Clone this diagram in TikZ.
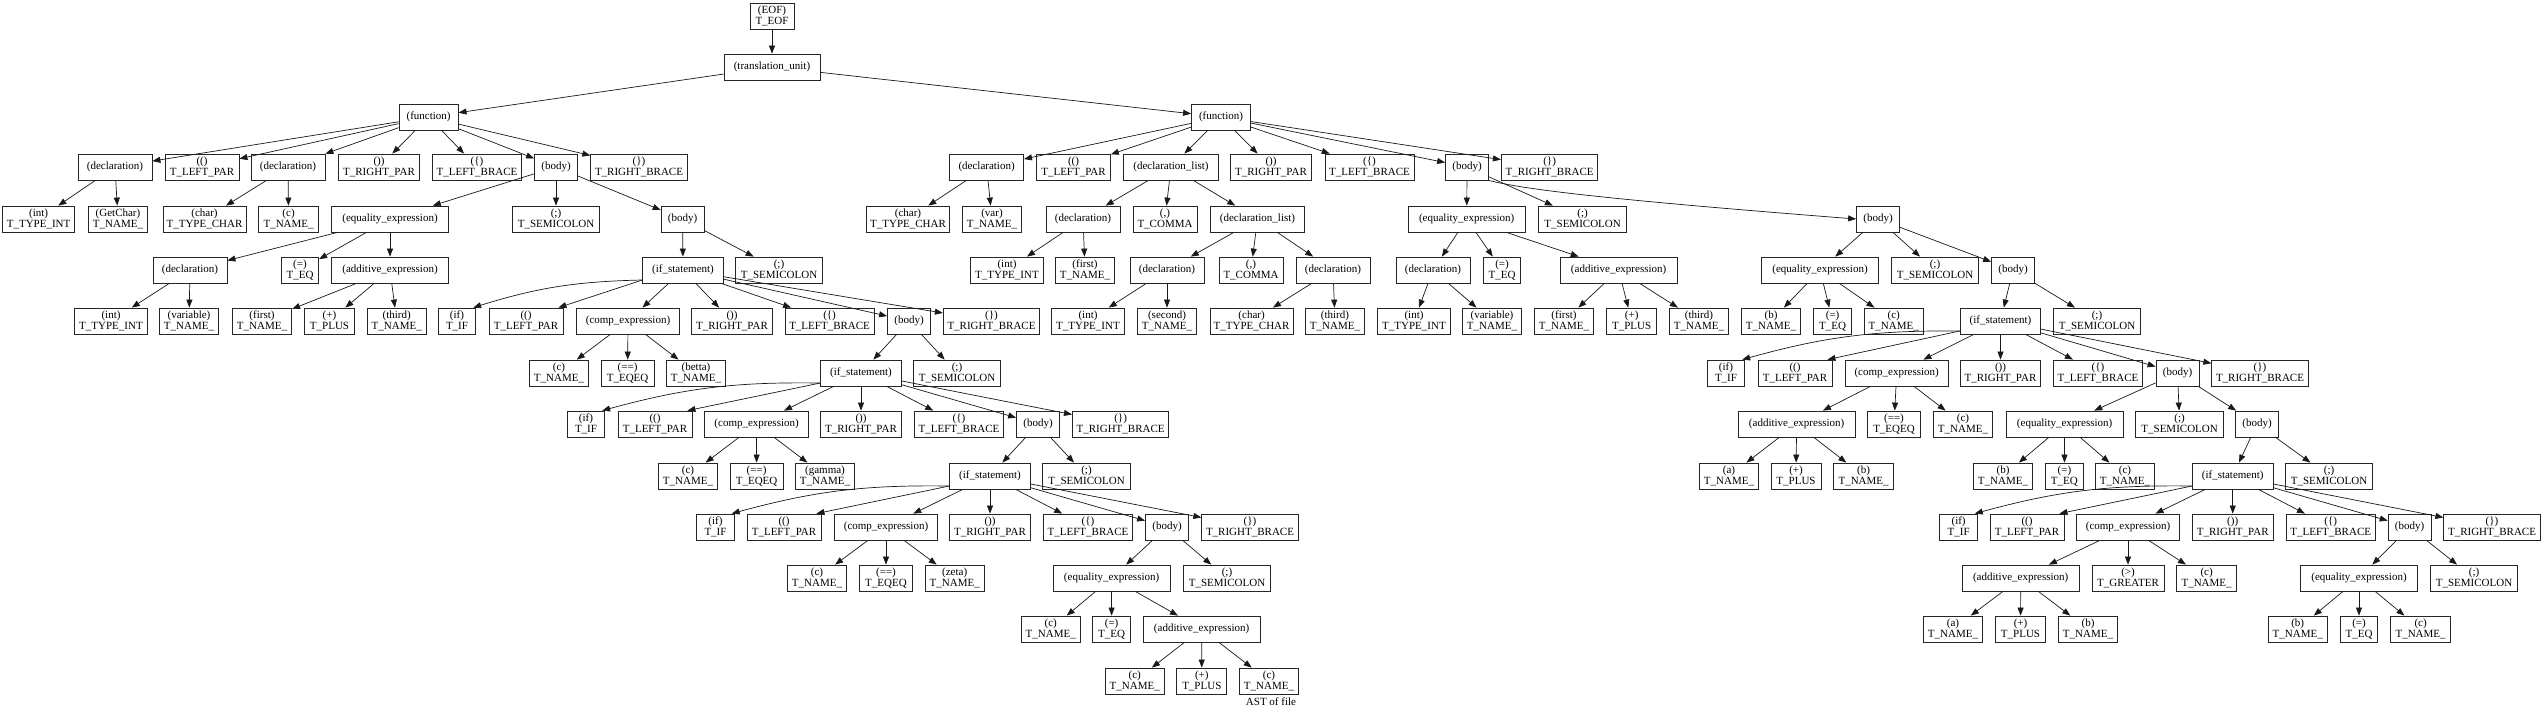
\documentclass[tikz,border=0pt]{standalone}
\usepackage{fontspec}
\setmainfont{Liberation Serif}
\usetikzlibrary{arrows.meta}
\begin{document}
\begin{tikzpicture}[x=1pt,y=-1pt,
  box/.style={draw=black!85,line width=0.8pt,rectangle,minimum height=26pt,inner sep=1pt,align=center,font=\fontsize{11}{11}\selectfont},
  edge/.style={draw=black!90,line width=0.7pt,-{Triangle[length=8pt,width=6pt]}},
  sEOF/.style={box,minimum width=44pt},
  sTU/.style={box,minimum width=96pt},
  sFN/.style={box,minimum width=59pt},
  sDECL/.style={box,minimum width=74pt},
  sLP/.style={box,minimum width=74pt},
  sRP/.style={box,minimum width=80.5pt},
  sLB/.style={box,minimum width=89pt},
  sBODY/.style={box,minimum width=43pt},
  sRB/.style={box,minimum width=96.5pt},
  sINT/.style={box,minimum width=72.5pt},
  sNAME/.style={box,minimum width=59.5pt},
  sCHAR/.style={box,minimum width=83pt},
  sEQX/.style={box,minimum width=117pt},
  sSEMI/.style={box,minimum width=87.5pt},
  sEQ/.style={box,minimum width=37.5pt},
  sADD/.style={box,minimum width=117pt},
  sIFS/.style={box,minimum width=80.5pt},
  sIF/.style={box,minimum width=37.5pt},
  sCOMP/.style={box,minimum width=103.5pt},
  sEQEQ/.style={box,minimum width=53pt},
  sPLUS/.style={box,minimum width=50pt},
  sDL/.style={box,minimum width=94.5pt},
  sCOMMA/.style={box,minimum width=64pt},
  sGT/.style={box,minimum width=72pt},
  caption/.style={font=\fontsize{11}{11}\selectfont,inner sep=0pt}]
\useasboundingbox (0,0) rectangle (2543,713);
% row 0-2
\node[sEOF] (eof) at (772,16) {(EOF)\\T\_EOF};
\node[sTU] (tu) at (772,67) {(translation\_unit)};
\node[sFN] (f1) at (428.6,117) {(function)};
\node[sFN] (f2) at (1221,117) {(function)};
% row 3
\node[sDECL] (d1) at (115,167) {(declaration)};
\node[sLP] (lp1) at (202,167) {(()\\T\_LEFT\_PAR};
\node[sDECL] (d2) at (288,167) {(declaration)};
\node[sRP] (rp1) at (379,167) {())\\T\_RIGHT\_PAR};
\node[sLB] (lb1) at (477,167) {(\{)\\T\_LEFT\_BRACE};
\node[sBODY] (b1) at (556,167) {(body)};
\node[sRB] (rb1) at (639,167) {(\})\\T\_RIGHT\_BRACE};
\node[sDECL] (d4) at (986.6,167) {(declaration)};
\node[sLP] (lp5) at (1073.5,167) {(()\\T\_LEFT\_PAR};
\node[sDL] (dl1) at (1171,167) {(declaration\_list)};
\node[sRP] (rp5) at (1271,167) {())\\T\_RIGHT\_PAR};
\node[sLB] (lb5) at (1369.5,167) {(\{)\\T\_LEFT\_BRACE};
\node[sBODY] (b6) at (1467,167) {(body)};
\node[sRB] (rb5) at (1549.6,167) {(\})\\T\_RIGHT\_BRACE};
% row 4
\node[sINT] (int1) at (38.6,219) {(int)\\T\_TYPE\_INT};
\node[sNAME] (nGet) at (118,219) {(GetChar)\\T\_NAME\_};
\node[sCHAR] (char1) at (204.5,219) {(char)\\T\_TYPE\_CHAR};
\node[sNAME] (nc1) at (288.6,219) {(c)\\T\_NAME\_};
\node[sEQX] (eq1) at (390,219) {(equality\_expression)};
\node[sSEMI] (semi1) at (556,219) {(;)\\T\_SEMICOLON};
\node[sBODY] (b2) at (682.6,219) {(body)};
\node[sCHAR] (char2) at (908,219) {(char)\\T\_TYPE\_CHAR};
\node[sNAME] (nvar) at (992,219) {(var)\\T\_NAME\_};
\node[sDECL] (d5) at (1083,219) {(declaration)};
\node[sCOMMA] (comma1) at (1165,219) {(,)\\T\_COMMA};
\node[sDL] (dl2) at (1257.5,219) {(declaration\_list)};
\node[sEQX] (eq3) at (1466.7,219) {(equality\_expression)};
\node[sSEMI] (semi6) at (1582.6,219) {(;)\\T\_SEMICOLON};
\node[sBODY] (b7) at (1878,219) {(body)};
% row 5
\node[sDECL] (d3) at (190,270) {(declaration)};
\node[sEQ] (eqop1) at (300,270) {(=)\\T\_EQ};
\node[sADD] (add1) at (390,270) {(additive\_expression)};
\node[sIFS] (if1) at (683,270) {(if\_statement)};
\node[sSEMI] (semi2) at (779,270) {(;)\\T\_SEMICOLON};
\node[sINT] (int3) at (1007,270) {(int)\\T\_TYPE\_INT};
\node[sNAME] (nfirst2) at (1085,270) {(first)\\T\_NAME\_};
\node[sDECL] (d6) at (1167,270) {(declaration)};
\node[sCOMMA] (comma2) at (1251,270) {(,)\\T\_COMMA};
\node[sDECL] (d7) at (1333,270) {(declaration)};
\node[sDECL] (d8) at (1433,270) {(declaration)};
\node[sEQ] (eqop3) at (1502,270) {(=)\\T\_EQ};
\node[sADD] (add3) at (1618.6,270) {(additive\_expression)};
\node[sEQX] (eq4) at (1820,270) {(equality\_expression)};
\node[sSEMI] (semi7) at (1935,270) {(;)\\T\_SEMICOLON};
\node[sBODY] (b8) at (2013,270) {(body)};
% row 6
\node[sINT] (int2) at (111,321) {(int)\\T\_TYPE\_INT};
\node[sNAME] (nvar1) at (189,321) {(variable)\\T\_NAME\_};
\node[sNAME] (nfirst1) at (262,321) {(first)\\T\_NAME\_};
\node[sPLUS] (plus1) at (329.5,321) {(+)\\T\_PLUS};
\node[sNAME] (nthird1) at (396.7,321) {(third)\\T\_NAME\_};
\node[sIF] (kif1) at (457,321) {(if)\\T\_IF};
\node[sLP] (lp2) at (526,321) {(()\\T\_LEFT\_PAR};
\node[sCOMP] (comp1) at (628,321) {(comp\_expression)};
\node[sRP] (rp2) at (732,321) {())\\T\_RIGHT\_PAR};
\node[sLB] (lb2) at (829.6,321) {(\{)\\T\_LEFT\_BRACE};
\node[sBODY] (b3) at (909,321) {(body)};
\node[sRB] (rb2) at (991.5,321) {(\})\\T\_RIGHT\_BRACE};
\node[sINT] (int4) at (1088,321) {(int)\\T\_TYPE\_INT};
\node[sNAME] (nsecond) at (1167,321) {(second)\\T\_NAME\_};
\node[sCHAR] (char3) at (1251.6,321) {(char)\\T\_TYPE\_CHAR};
\node[sNAME] (nthird2) at (1335,321) {(third)\\T\_NAME\_};
\node[sINT] (int5) at (1414,321) {(int)\\T\_TYPE\_INT};
\node[sNAME] (nvar2) at (1492,321) {(variable)\\T\_NAME\_};
\node[sNAME] (nfirst3) at (1564,321) {(first)\\T\_NAME\_};
\node[sPLUS] (plus3) at (1631.7,321) {(+)\\T\_PLUS};
\node[sNAME] (nthird3) at (1699,321) {(third)\\T\_NAME\_};
\node[sNAME] (nb1) at (1771,321) {(b)\\T\_NAME\_};
\node[sEQ] (eqop4) at (1832.6,321) {(=)\\T\_EQ};
\node[sNAME] (nc8) at (1893.7,321) {(c)\\T\_NAME\_};
\node[sIFS] (if4) at (2000.5,321) {(if\_statement)};
\node[sSEMI] (semi8) at (2097,321) {(;)\\T\_SEMICOLON};
% row 7
\node[sNAME] (nc2) at (559,373) {(c)\\T\_NAME\_};
\node[sEQEQ] (eqeq1) at (627.6,373) {(==)\\T\_EQEQ};
\node[sNAME] (nbetta) at (696,373) {(betta)\\T\_NAME\_};
\node[sIFS] (if2) at (861,373) {(if\_statement)};
\node[sSEMI] (semi3) at (957,373) {(;)\\T\_SEMICOLON};
\node[sIF] (kif4) at (1726,373) {(if)\\T\_IF};
\node[sLP] (lp6) at (1795,373) {(()\\T\_LEFT\_PAR};
\node[sCOMP] (comp4) at (1896.7,373) {(comp\_expression)};
\node[sRP] (rp6) at (2000.5,373) {())\\T\_RIGHT\_PAR};
\node[sLB] (lb6) at (2098,373) {(\{)\\T\_LEFT\_BRACE};
\node[sBODY] (b9) at (2177.5,373) {(body)};
\node[sRB] (rb6) at (2260,373) {(\})\\T\_RIGHT\_BRACE};
% row 8
\node[sIF] (kif2) at (586,424) {(if)\\T\_IF};
\node[sLP] (lp3) at (655,424) {(()\\T\_LEFT\_PAR};
\node[sCOMP] (comp2) at (756.6,424) {(comp\_expression)};
\node[sRP] (rp3) at (861,424) {())\\T\_RIGHT\_PAR};
\node[sLB] (lb3) at (959,424) {(\{)\\T\_LEFT\_BRACE};
\node[sBODY] (b4) at (1038,424) {(body)};
\node[sRB] (rb3) at (1120.6,424) {(\})\\T\_RIGHT\_BRACE};
\node[sADD] (add4) at (1796.6,424) {(additive\_expression)};
\node[sEQEQ] (eqeq4) at (1894,424) {(==)\\T\_EQEQ};
\node[sNAME] (nc9) at (1963,424) {(c)\\T\_NAME\_};
\node[sEQX] (eq5) at (2064.6,424) {(equality\_expression)};
\node[sSEMI] (semi9) at (2179.6,424) {(;)\\T\_SEMICOLON};
\node[sBODY] (b10) at (2257,424) {(body)};
% row 9
\node[sNAME] (nc3) at (688,476) {(c)\\T\_NAME\_};
\node[sEQEQ] (eqeq2) at (756.6,476) {(==)\\T\_EQEQ};
\node[sNAME] (ngamma) at (825,476) {(gamma)\\T\_NAME\_};
\node[sIFS] (if3) at (990,476) {(if\_statement)};
\node[sSEMI] (semi4) at (1086.5,476) {(;)\\T\_SEMICOLON};
\node[sNAME] (na1) at (1729,476) {(a)\\T\_NAME\_};
\node[sPLUS] (plus4) at (1796,476) {(+)\\T\_PLUS};
\node[sNAME] (nb2) at (1863.6,476) {(b)\\T\_NAME\_};
\node[sNAME] (nb3) at (2003,476) {(b)\\T\_NAME\_};
\node[sEQ] (eqop5) at (2064.4,476) {(=)\\T\_EQ};
\node[sNAME] (nc10) at (2125,476) {(c)\\T\_NAME\_};
\node[sIFS] (if5) at (2232.7,476) {(if\_statement)};
\node[sSEMI] (semi10) at (2329,476) {(;)\\T\_SEMICOLON};
% row 10
\node[sIF] (kif3) at (715.5,527) {(if)\\T\_IF};
\node[sLP] (lp4) at (784,527) {(()\\T\_LEFT\_PAR};
\node[sCOMP] (comp3) at (886,527) {(comp\_expression)};
\node[sRP] (rp4) at (990,527) {())\\T\_RIGHT\_PAR};
\node[sLB] (lb4) at (1088,527) {(\{)\\T\_LEFT\_BRACE};
\node[sBODY] (b5) at (1167,527) {(body)};
\node[sRB] (rb4) at (1250,527) {(\})\\T\_RIGHT\_BRACE};
\node[sIF] (kif5) at (1958.6,527) {(if)\\T\_IF};
\node[sLP] (lp7) at (2027,527) {(()\\T\_LEFT\_PAR};
\node[sCOMP] (comp5) at (2128,527) {(comp\_expression)};
\node[sRP] (rp7) at (2232.7,527) {())\\T\_RIGHT\_PAR};
\node[sLB] (lb7) at (2330.7,527) {(\{)\\T\_LEFT\_BRACE};
\node[sBODY] (b11) at (2409.6,527) {(body)};
\node[sRB] (rb7) at (2492,527) {(\})\\T\_RIGHT\_BRACE};
% row 11
\node[sNAME] (nc4) at (817,578) {(c)\\T\_NAME\_};
\node[sEQEQ] (eqeq3) at (886,578) {(==)\\T\_EQEQ};
\node[sNAME] (nzeta) at (954.7,578) {(zeta)\\T\_NAME\_};
\node[sEQX] (eq2) at (1111.6,578) {(equality\_expression)};
\node[sSEMI] (semi5) at (1227,578) {(;)\\T\_SEMICOLON};
\node[sADD] (add5) at (2020.7,578) {(additive\_expression)};
\node[sGT] (greater) at (2128,578) {(>)\\T\_GREATER};
\node[sNAME] (nc11) at (2206.6,578) {(c)\\T\_NAME\_};
\node[sEQX] (eq6) at (2359,578) {(equality\_expression)};
\node[sSEMI] (semi11) at (2474,578) {(;)\\T\_SEMICOLON};
% row 12
\node[sNAME] (nc5) at (1050.7,629) {(c)\\T\_NAME\_};
\node[sEQ] (eqop2) at (1111.6,629) {(=)\\T\_EQ};
\node[sADD] (add2) at (1201.6,629) {(additive\_expression)};
\node[sNAME] (na2) at (1953,629) {(a)\\T\_NAME\_};
\node[sPLUS] (plus5) at (2020.5,629) {(+)\\T\_PLUS};
\node[sNAME] (nb4) at (2088,629) {(b)\\T\_NAME\_};
\node[sNAME] (nb5) at (2297.7,629) {(b)\\T\_NAME\_};
\node[sEQ] (eqop6) at (2359,629) {(=)\\T\_EQ};
\node[sNAME] (nc12) at (2420.6,629) {(c)\\T\_NAME\_};
% row 13
\node[sNAME] (nc6) at (1134.7,681) {(c)\\T\_NAME\_};
\node[sPLUS] (plus2) at (1201.8,681) {(+)\\T\_PLUS};
\node[sNAME] (nc7) at (1269,681) {(c)\\T\_NAME\_};
\node[caption] (cap) at (1271,702) {AST of file};
% edges
\foreach \p/\c in {eof/tu, tu/f1, tu/f2,
  f1/d1, f1/lp1, f1/d2, f1/rp1, f1/lb1, f1/b1, f1/rb1,
  d1/int1, d1/nGet, d2/char1, d2/nc1,
  b1/eq1, b1/semi1, b1/b2,
  eq1/d3, eq1/eqop1, eq1/add1,
  d3/int2, d3/nvar1,
  add1/nfirst1, add1/plus1, add1/nthird1,
  b2/if1, b2/semi2,
  if1/comp1, if1/rp2, if1/lb2, if1/b3, if1/rb2,
  comp1/nc2, comp1/eqeq1, comp1/nbetta,
  b3/if2, b3/semi3,
  if2/comp2, if2/rp3, if2/lb3, if2/b4, if2/rb3,
  comp2/nc3, comp2/eqeq2, comp2/ngamma,
  b4/if3, b4/semi4,
  if3/comp3, if3/rp4, if3/lb4, if3/b5, if3/rb4,
  comp3/nc4, comp3/eqeq3, comp3/nzeta,
  b5/eq2, b5/semi5,
  eq2/nc5, eq2/eqop2, eq2/add2,
  add2/nc6, add2/plus2, add2/nc7,
  f2/d4, f2/lp5, f2/dl1, f2/rp5, f2/lb5, f2/b6, f2/rb5,
  d4/char2, d4/nvar,
  dl1/d5, dl1/comma1, dl1/dl2,
  d5/int3, d5/nfirst2,
  dl2/d6, dl2/comma2, dl2/d7,
  d6/int4, d6/nsecond,
  d7/char3, d7/nthird2,
  b6/eq3, b6/semi6,
  eq3/d8, eq3/eqop3, eq3/add3,
  d8/int5, d8/nvar2,
  add3/nfirst3, add3/plus3, add3/nthird3,
  b7/eq4, b7/semi7, b7/b8,
  eq4/nb1, eq4/eqop4, eq4/nc8,
  b8/if4, b8/semi8,
  if4/comp4, if4/rp6, if4/lb6, if4/b9, if4/rb6,
  comp4/add4, comp4/eqeq4, comp4/nc9,
  add4/na1, add4/plus4, add4/nb2,
  b9/eq5, b9/semi9, b9/b10,
  eq5/nb3, eq5/eqop5, eq5/nc10,
  b10/if5, b10/semi10,
  if5/comp5, if5/rp7, if5/lb7, if5/b11, if5/rb7,
  comp5/add5, comp5/greater, comp5/nc11,
  add5/na2, add5/plus5, add5/nb4,
  b11/eq6, b11/semi11,
  eq6/nb5, eq6/eqop6, eq6/nc12}
  \draw[edge] (\p) -- (\c);
\foreach \p/\c in {if1/kif1, if2/kif2, if3/kif3, if4/kif4, if5/kif5}
  \draw[edge] ([yshift=-10pt]\p.west) to[bend right=8] ([xshift=-3pt]\c.north east);
\foreach \p/\c in {if1/lp2, if2/lp3, if3/lp4, if4/lp6, if5/lp7}
  \draw[edge] ([yshift=-10pt]\p.west) -- ([xshift=-5pt]\c.north east);
\draw[edge] (b6.south east) .. controls (1522,189) and (1600,199) .. (b7.west);
\end{tikzpicture}
\end{document}
